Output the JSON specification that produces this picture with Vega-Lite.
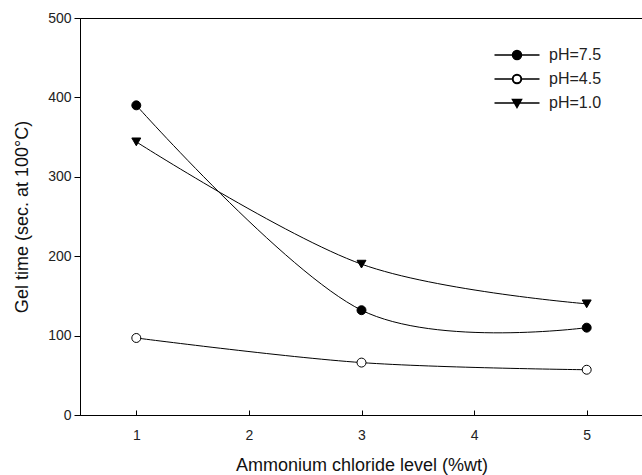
{
  "$schema": "https://vega.github.io/schema/vega-lite/v6.json",
  "autosize": "none",
  "width": 563,
  "height": 397,
  "padding": {"left": 80, "top": 18, "right": 0, "bottom": 60},
  "background": "white",
  "config": {
    "font": "Liberation Sans",
    "view": {"stroke": "black", "strokeWidth": 1},
    "axis": {"domainColor": "black", "tickColor": "black", "labelColor": "#222", "titleColor": "#111", "grid": false, "labelFont": "Liberation Sans", "titleFont": "Liberation Sans", "labelFontSize": 14, "titleFontSize": 18, "titleFontWeight": "normal", "ticks": true},
    "legend": {"labelFont": "Liberation Sans", "labelFontSize": 16, "labelColor": "#222"}
  },
  "data": {
    "values": [
      {"x": 1, "y": 390, "ph": "pH=7.5"},
      {"x": 3, "y": 132, "ph": "pH=7.5"},
      {"x": 5, "y": 110, "ph": "pH=7.5"},
      {"x": 1, "y": 97, "ph": "pH=4.5"},
      {"x": 3, "y": 66, "ph": "pH=4.5"},
      {"x": 5, "y": 57, "ph": "pH=4.5"},
      {"x": 1, "y": 344, "ph": "pH=1.0"},
      {"x": 3, "y": 190, "ph": "pH=1.0"},
      {"x": 5, "y": 140, "ph": "pH=1.0"}
    ]
  },
  "encoding": {
    "x": {
      "field": "x", "type": "quantitative",
      "scale": {"domain": [0.5, 5.5], "nice": false, "zero": false},
      "axis": {"values": [1, 2, 3, 4, 5], "tickSize": -5, "labelPadding": 18, "title": "Ammonium chloride level (%wt)", "titlePadding": 14}
    },
    "y": {
      "field": "y", "type": "quantitative",
      "scale": {"domain": [0, 500], "nice": false},
      "axis": {
        "values": [0,100,200,300,400,500],
        "tickSize": 6, "tickWidth": 1,
        "labelPadding": 3,
        "title": "Gel time (sec. at 100°C)",
        "titlePadding": 16
      }
    }
  },
  "resolve": {"scale": {"shape": "independent"}, "legend": {"shape": "independent"}},
  "layer": [
    {
      "mark": {"type": "line", "interpolate": "cardinal", "color": "black", "strokeWidth": 1},
      "encoding": {"detail": {"field": "ph"}}
    },
    {
      "mark": {"type": "point", "filled": true, "size": 80, "stroke": "black", "strokeWidth": 1, "opacity": 1},
      "encoding": {
        "shape": {"field": "ph", "type": "nominal", "scale": {"domain": ["pH=7.5", "pH=4.5", "pH=1.0"], "range": ["circle", "circle", "triangle-down"]}, "legend": null},
        "fill": {"field": "ph", "type": "nominal", "scale": {"domain": ["pH=7.5", "pH=4.5", "pH=1.0"], "range": ["black", "white", "black"]}, "legend": null}
      }
    },
    {
      "transform": [{"filter": "datum.x > 100"}],
      "mark": {"type": "point", "filled": true, "fill": "black", "size": 81, "stroke": "black", "strokeWidth": 1, "opacity": 1},
      "encoding": {
        "shape": {"field": "ph", "type": "nominal", "scale": {"domain": ["pH=7.5", "pH=4.5", "pH=1.0"], "range": ["M-5,0H-1M1,0H5M1,0A1,1,0,1,1,-1,0A1,1,0,1,1,1,0Z", "M-5,0H-1M1,0H5M1,0A1,1,0,1,1,-1,0A1,1,0,1,1,1,0ZM0.9,0A0.9,0.9,0,1,0,-0.9,0A0.9,0.9,0,1,0,0.9,0Z", "M-5,0H5M-1,-0.8L1,-0.8L0,1Z"]},
          "legend": {"title": null, "orient": "none", "legendX": 407, "legendY": 29, "padding": 0, "symbolSize": 81, "symbolOffset": 22, "labelOffset": 24, "rowPadding": 8, "symbolFillColor": "black",
            "encode": {"symbols": {"update": {"stroke": {"value": "black"}, "strokeWidth": {"value": 1}, "fill": {"value": "black"}, "opacity": {"value": 1}}}}}}
      }
    }
  ]
}
